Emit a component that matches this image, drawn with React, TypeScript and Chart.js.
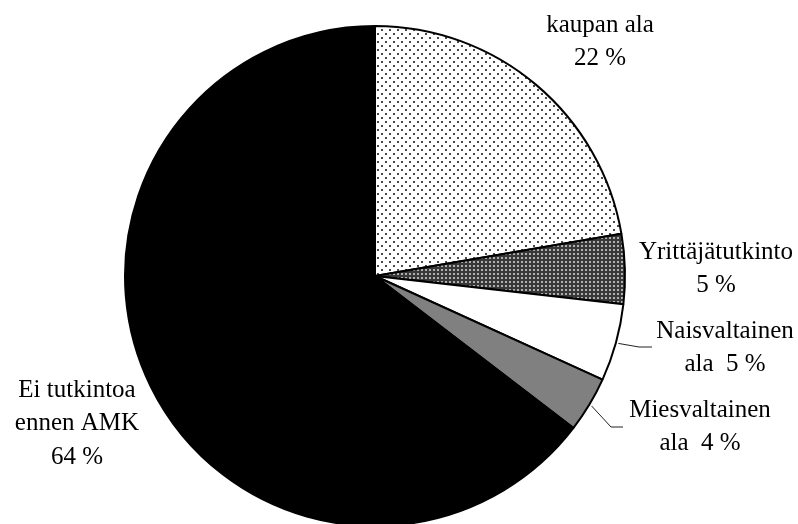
import React, { useEffect, useRef } from "react";
import { Chart, registerables } from "chart.js";

Chart.register(...registerables);

// ---- data ----
const categories = [
  "kaupan ala",
  "Yrittäjätutkinto",
  "Naisvaltainen ala",
  "Miesvaltainen ala",
  "Ei tutkintoa ennen AMK",
];
const shares = [22.3, 4.5, 5.0, 3.6, 64.6];
const percentLabels = ["22 %", "5 %", "5 %", "4 %", "64 %"];
const nameLines = [
  ["kaupan ala"],
  ["Yrittäjätutkinto"],
  ["Naisvaltainen"],
  ["Miesvaltainen"],
  ["Ei tutkintoa", "ennen AMK"],
];
const percentSeparators = ["", "", "ala  ", "ala  ", ""];

// ---- layout (offsets relative to pie centre) ----
const LABEL_LAYOUT = [
  { dx: 225, dy: -244 },
  { dx: 341, dy: -17 },
  { dx: 350, dy: 62 },
  { dx: 325, dy: 141 },
  { dx: -298, dy: 121 },
];
const LEADERS: Record<number, { ex: number; ey: number; len: number }> = {
  2: { ex: 264, ey: 71, len: 13 },
  3: { ex: 236, ey: 151, len: 12 },
};
const LINE_H = 33.3;
const FONT = '25px "Liberation Serif"';

function makePattern(size: number, bg: string, dot: string, dots: number[][], dotSize: number) {
  const c = document.createElement("canvas");
  c.width = size;
  c.height = size;
  const x = c.getContext("2d")!;
  x.fillStyle = bg;
  x.fillRect(0, 0, size, size);
  x.fillStyle = dot;
  for (const [px, py] of dots) x.fillRect(px, py, dotSize, dotSize);
  const main = document.createElement("canvas").getContext("2d")!;
  return main.createPattern(c, "repeat")!;
}

const labelPlugin = {
  id: "pieLabels",
  afterDraw(chart: any) {
    const meta = chart.getDatasetMeta(0);
    const ctx = chart.ctx as CanvasRenderingContext2D;
    const first = meta.data[0];
    if (!first) return;
    const cx = first.x;
    const cy = first.y;
    ctx.save();
    ctx.strokeStyle = "#222";
    ctx.lineWidth = 1;
    meta.data.forEach((arc: any, i: number) => {
      const L = LEADERS[i];
      if (!L) return;
      const mid = (arc.startAngle + arc.endAngle) / 2;
      const r = arc.outerRadius * 1.01;
      ctx.beginPath();
      ctx.moveTo(cx + Math.cos(mid) * r, cy + Math.sin(mid) * r);
      ctx.lineTo(cx + L.ex, cy + L.ey);
      ctx.lineTo(cx + L.ex + L.len, cy + L.ey);
      ctx.stroke();
    });
    ctx.fillStyle = "#000";
    ctx.font = FONT + ', "Times New Roman", serif';
    ctx.textAlign = "center";
    ctx.textBaseline = "alphabetic";
    categories.forEach((_, i) => {
      const lines = [...nameLines[i], percentSeparators[i] + percentLabels[i]];
      const p = LABEL_LAYOUT[i];
      lines.forEach((t, k) => {
        ctx.fillText(t, cx + p.dx, cy + p.dy + k * LINE_H);
      });
    });
    ctx.restore();
  },
};

export default function App() {
  const ref = useRef<HTMLCanvasElement>(null);
  useEffect(() => {
    document.body.style.margin = "0";
    const canvas = ref.current!;
    let chart: Chart | null = null;
    let cancelled = false;
    const build = () => {
      if (cancelled) return;
      const lightDots = makePattern(8, "#ffffff", "#4a4a4a", [[1, 1], [5, 5]], 2);
      const darkDots = makePattern(4, "#383838", "#b0b0b0", [[1, 1]], 2);
      chart = new Chart(canvas, {
        type: "pie",
        data: {
          labels: categories,
          datasets: [
            {
              data: shares,
              backgroundColor: [lightDots, darkDots, "#ffffff", "#808080", "#000000"] as any,
              borderColor: "#000000",
              borderWidth: 2,
            },
          ],
        },
        options: {
          animation: false,
          responsive: false,
          events: [],
          radius: 250,
          layout: { padding: { left: 125, right: 173, top: 28, bottom: 0 } },
          plugins: {
            legend: { display: false },
            tooltip: { enabled: false },
          },
        } as any,
        plugins: [labelPlugin],
      });
    };
    const fonts = (document as any).fonts;
    if (fonts && fonts.load) {
      fonts.load(FONT, "kaupan ala 22 %").then(build, build);
    } else {
      build();
    }
    return () => {
      cancelled = true;
      if (chart) chart.destroy();
    };
  }, []);
  return (
    <div style={{ position: "fixed", left: 0, top: 0, width: 798, height: 524, background: "#fff" }}>
      <canvas ref={ref} width={798} height={524} style={{ display: "block" }} />
    </div>
  );
}
